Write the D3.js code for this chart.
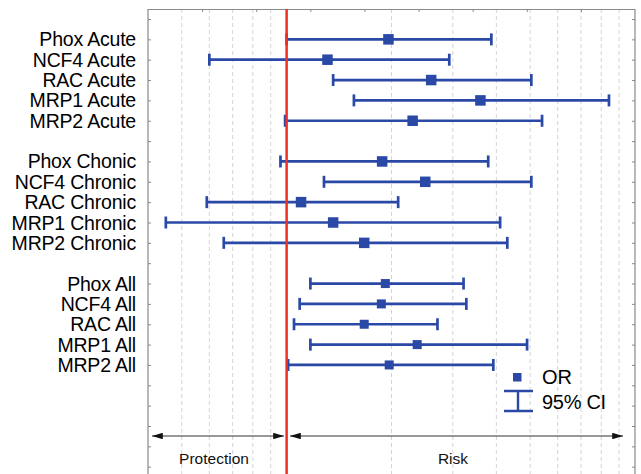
<!DOCTYPE html>
<html lang="en">
<head>
<meta charset="utf-8">
<title>Odds ratio forest plot</title>
<script src="https://d3js.org/d3.v7.min.js"></script>
<style>
  body { margin: 0; background: #fff; }
  text { font-family: "Liberation Sans", Arial, sans-serif; }
</style>
</head>
<body>
<script>
// rows, top to bottom; "" = empty spacer row
const labels = ["", "Phox Acute", "NCF4 Acute", "RAC Acute", "MRP1 Acute", "MRP2 Acute",
  "", "Phox Chonic", "NCF4 Chronic", "RAC Chronic", "MRP1 Chronic", "MRP2 Chronic",
  "", "Phox All", "NCF4 All", "RAC All", "MRP1 All", "MRP2 All"];
const oddsRatio = [null, 1.96, 1.31, 2.60, 3.60, 2.30,
  null, 1.88, 2.50, 1.10, 1.36, 1.67,
  null, 1.92, 1.87, 1.67, 2.37, 1.97];
const ciLow = [null, 1.00, 0.60, 1.36, 1.56, 0.99,
  null, 0.96, 1.28, 0.59, 0.45, 0.66,
  null, 1.17, 1.09, 1.05, 1.17, 1.01];
const ciHigh = [null, 3.87, 2.93, 5.04, 8.42, 5.41,
  null, 3.79, 5.04, 2.09, 4.10, 4.30,
  null, 3.22, 3.28, 2.71, 4.90, 3.92];
const gridValues = [0.5, 0.6, 0.7, 0.8, 0.9, 2, 3, 4, 5, 6, 7, 8, 9];

const W = 641, H = 474;
const pLeft = 148, pRight = 635, pTop = 9;
const blue = "#2a48a6", red = "#ee3124";

const svg = d3.select("body").append("svg").attr("width", W).attr("height", H);

const x = d3.scaleLog().domain([0.4, 10]).range([pLeft, pRight]);
const y = d3.scaleLinear().domain([0, 22]).range([19, 19 + 20.35 * 22]);
const xTop = d3.scaleLinear().domain([0, 9]).range([pLeft, pRight]);

// dashed grid
svg.append("g").selectAll("line").data(gridValues).join("line")
  .attr("x1", d => x(d)).attr("x2", d => x(d))
  .attr("y1", pTop).attr("y2", H)
  .attr("stroke", "#d4d4d4").attr("stroke-width", 1)
  .attr("stroke-dasharray", "4,3");

// frame + ticks
const frame = "#8a8a8a";
svg.append("g").attr("transform", `translate(0,${pTop})`)
  .call(d3.axisTop(xTop).tickValues(d3.range(1, 9)).tickSize(-3).tickFormat(""))
  .call(g => g.select(".domain").remove())
  .call(g => g.selectAll("line").attr("stroke", frame));
svg.append("g").attr("transform", `translate(${pLeft},0)`)
  .call(d3.axisLeft(y).tickValues(d3.range(0, 23)).tickSize(-3).tickFormat(""))
  .call(g => g.select(".domain").remove())
  .call(g => g.selectAll("line").attr("stroke", frame));
svg.append("g").attr("transform", `translate(${pRight},0)`)
  .call(d3.axisRight(y).tickValues(d3.range(0, 23)).tickSize(-3).tickFormat(""))
  .call(g => g.select(".domain").remove())
  .call(g => g.selectAll("line").attr("stroke", frame));
svg.append("path")
  .attr("d", `M${pLeft},${H + 5}V${pTop + 0.5}H${pRight}V${H + 5}`)
  .attr("fill", "none").attr("stroke", frame).attr("stroke-width", 1.2);

// row labels
svg.append("g").selectAll("text").data(labels).join("text")
  .attr("x", 136).attr("y", (d, i) => y(i)).attr("dy", "0.36em")
  .attr("text-anchor", "end").attr("font-size", 19.5).attr("fill", "#000")
  .attr("letter-spacing", -0.2)
  .text(d => d);

// confidence intervals
const rows = labels.map((d, i) => ({ i, or: oddsRatio[i], lo: ciLow[i], hi: ciHigh[i] }))
  .filter(d => d.or !== null);
const ci = svg.append("g").attr("stroke", blue).attr("stroke-width", 2.7);
ci.selectAll(".bar").data(rows).join("line")
  .attr("x1", d => x(d.lo)).attr("x2", d => x(d.hi))
  .attr("y1", d => y(d.i)).attr("y2", d => y(d.i));
ci.selectAll(".capL").data(rows).join("line")
  .attr("x1", d => x(d.lo)).attr("x2", d => x(d.lo))
  .attr("y1", d => y(d.i) - 6).attr("y2", d => y(d.i) + 6);
ci.selectAll(".capR").data(rows).join("line")
  .attr("x1", d => x(d.hi)).attr("x2", d => x(d.hi))
  .attr("y1", d => y(d.i) - 6).attr("y2", d => y(d.i) + 6);

// odds ratio squares
const sq = d => (d.i > 12 ? 9 : 10.5);
svg.append("g").selectAll("rect").data(rows).join("rect")
  .attr("x", d => x(d.or) - sq(d) / 2).attr("y", d => y(d.i) - sq(d) / 2)
  .attr("width", sq).attr("height", sq).attr("fill", blue);

// reference line OR = 1
svg.append("line")
  .attr("x1", x(1)).attr("x2", x(1)).attr("y1", pTop).attr("y2", H)
  .attr("stroke", red).attr("stroke-width", 2.5);

// legend
const lg = svg.append("g");
lg.append("rect").attr("x", 513).attr("y", 373).attr("width", 8.5).attr("height", 8.5).attr("fill", blue);
lg.append("path").attr("d", "M504,391H533M518,391V411M504,411H533")
  .attr("stroke", blue).attr("stroke-width", 2.4).attr("fill", "none");
lg.append("text").attr("x", 542).attr("y", 377).attr("dy", "0.36em")
  .attr("font-size", 20).attr("fill", "#000").text("OR");
lg.append("text").attr("x", 542).attr("y", 402).attr("dy", "0.36em")
  .attr("font-size", 20).attr("fill", "#000").attr("letter-spacing", -0.3).text("95% CI");

// protection / risk arrows
const ay = 436;
const defs = svg.append("defs");
defs.append("marker").attr("id", "head").attr("viewBox", "0 0 10 6")
  .attr("refX", 10).attr("refY", 3).attr("markerWidth", 11).attr("markerHeight", 6.5)
  .attr("markerUnits", "userSpaceOnUse").attr("orient", "auto-start-reverse")
  .append("path").attr("d", "M0,0L10,3L0,6Z").attr("fill", "#111");
svg.append("line").attr("x1", 152).attr("x2", 284).attr("y1", ay).attr("y2", ay)
  .attr("stroke", "#333").attr("stroke-width", 1)
  .attr("marker-start", "url(#head)").attr("marker-end", "url(#head)");
svg.append("line").attr("x1", 290).attr("x2", 623).attr("y1", ay).attr("y2", ay)
  .attr("stroke", "#333").attr("stroke-width", 1)
  .attr("marker-start", "url(#head)").attr("marker-end", "url(#head)");
svg.append("text").attr("x", 214).attr("y", 458).attr("dy", "0.36em")
  .attr("text-anchor", "middle").attr("font-size", 15.5).attr("fill", "#111").text("Protection");
svg.append("text").attr("x", 453).attr("y", 458).attr("dy", "0.36em")
  .attr("text-anchor", "middle").attr("font-size", 15.5).attr("fill", "#111").text("Risk");
</script>
</body>
</html>
